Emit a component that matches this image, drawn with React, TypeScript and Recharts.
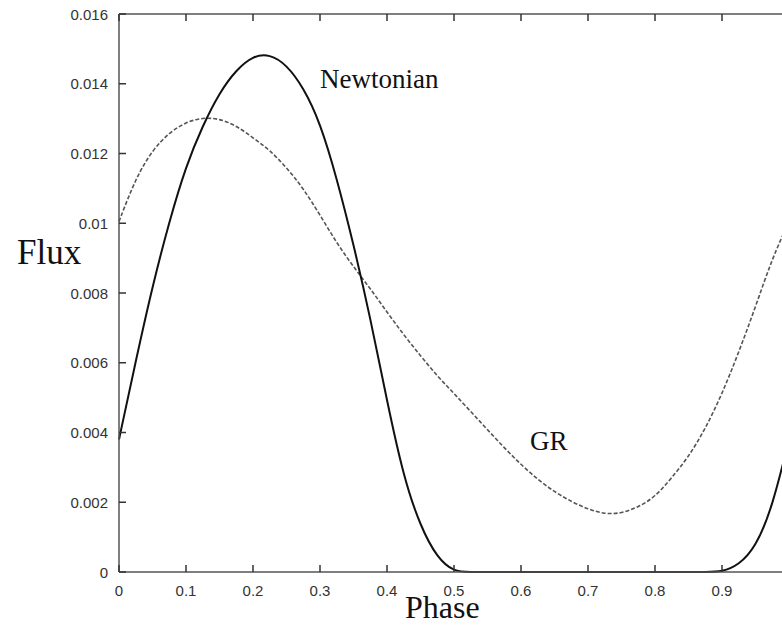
import { LineChart, Line, XAxis, YAxis } from "recharts"

// phase grid and flux readings
const phase = [
  0, 0.025, 0.05, 0.075, 0.1, 0.125, 0.15, 0.175, 0.2, 0.225,
  0.25, 0.275, 0.3, 0.325, 0.35, 0.375, 0.4, 0.425, 0.45, 0.475,
  0.5, 0.525, 0.55, 0.575, 0.6, 0.625, 0.65, 0.675, 0.7, 0.725,
  0.75, 0.775, 0.8, 0.825, 0.85, 0.875, 0.9, 0.925, 0.95, 0.975, 1,
]

const newtonian = [
  0.0038, 0.00605, 0.0082, 0.01005, 0.01165, 0.0128, 0.01375, 0.0144, 0.0148, 0.01485,
  0.01455, 0.0139, 0.0129, 0.0113, 0.0094, 0.0073, 0.0049, 0.0027, 0.0013, 0.0004,
  0, 0, 0, 0, 0, 0, 0, 0, 0, 0,
  0, 0, 0, 0, 0, 0, 0, 0.0002, 0.0007, 0.00185, 0.0038,
]

const gr = [
  0.01005, 0.0113, 0.0121, 0.0126, 0.0129, 0.01303, 0.013, 0.0128, 0.01245, 0.0121,
  0.0116, 0.011, 0.01024, 0.00943, 0.00875, 0.00813, 0.00745, 0.0068, 0.0062, 0.00562,
  0.00512, 0.0046, 0.00408, 0.00356, 0.00308, 0.00265, 0.0023, 0.00202, 0.0018, 0.00166,
  0.00168, 0.00186, 0.00215, 0.0027, 0.0033, 0.0041, 0.0051, 0.0063, 0.0076, 0.009, 0.01005,
]

const phaseTicks = [0, 0.1, 0.2, 0.3, 0.4, 0.5, 0.6, 0.7, 0.8, 0.9, 1]
const fluxTicks = [0, 0.002, 0.004, 0.006, 0.008, 0.01, 0.012, 0.014, 0.016]

const data = phase.map((p, i) => ({ phase: p, newtonian: newtonian[i], gr: gr[i] }))

const axisColor = "#555"
const tickColor = "#333"
const sans = "Liberation Sans, Arial, sans-serif"
const serif = "Liberation Serif, Times New Roman, serif"
const TICK = 7

// gnuplot style: tick marks point into the plot, labels sit outside
const BottomTick = (props: any) => {
  const { x, y, payload } = props
  const v = payload.value
  return (
    <g>
      <line x1={x} y1={y} x2={x} y2={y - TICK} stroke={tickColor} strokeWidth={1.5} />
      {v < 1 && (
        <text x={x} y={y + 18} textAnchor="middle" dominantBaseline="central" fontFamily={sans} fontSize={15} fill="#333">
          {String(parseFloat(v.toFixed(1)))}
        </text>
      )}
    </g>
  )
}

const TopTick = (props: any) => {
  const { x, y } = props
  return <line x1={x} y1={y} x2={x} y2={y + TICK} stroke={tickColor} strokeWidth={1.5} />
}

const LeftTick = (props: any) => {
  const { x, y, payload } = props
  return (
    <g>
      <line x1={x} y1={y} x2={x + TICK} y2={y} stroke={tickColor} strokeWidth={1.5} />
      <text x={x - 11} y={y} textAnchor="end" dominantBaseline="central" fontFamily={sans} fontSize={15} fill="#333">
        {String(parseFloat(payload.value.toFixed(3)))}
      </text>
    </g>
  )
}

const RightTick = (props: any) => {
  const { x, y } = props
  return <line x1={x} y1={y} x2={x - TICK} y2={y} stroke={tickColor} strokeWidth={1.5} />
}

export default function App() {
  return (
    <div style={{ position: "absolute", left: 0, top: 0, width: 782, height: 625, overflow: "hidden", background: "#fff" }}>
      <LineChart width={820} height={625} data={data} margin={{ top: 0, right: 0, bottom: 0, left: 0 }}>
        <XAxis
          dataKey="phase"
          type="number"
          domain={[0, 1]}
          ticks={phaseTicks}
          interval={0}
          height={53}
          tickSize={0}
          tickMargin={0}
          tickLine={false}
          tick={BottomTick}
          stroke={axisColor}
          strokeWidth={1.5}
        />
        <XAxis
          xAxisId="top"
          orientation="top"
          dataKey="phase"
          type="number"
          domain={[0, 1]}
          ticks={phaseTicks}
          interval={0}
          height={14}
          tickSize={0}
          tickMargin={0}
          tickLine={false}
          tick={TopTick}
          stroke={axisColor}
          strokeWidth={1.5}
        />
        <YAxis
          type="number"
          domain={[0, 0.016]}
          ticks={fluxTicks}
          interval={0}
          width={119}
          tickSize={0}
          tickMargin={0}
          tickLine={false}
          tick={LeftTick}
          stroke={axisColor}
          strokeWidth={1.5}
        />
        <YAxis
          yAxisId="right"
          orientation="right"
          type="number"
          domain={[0, 0.016]}
          ticks={fluxTicks}
          interval={0}
          width={31}
          tickSize={0}
          tickMargin={0}
          tickLine={false}
          tick={RightTick}
          stroke={axisColor}
          strokeWidth={1.5}
        />
        <Line
          dataKey="gr"
          type="basis"
          stroke="#555"
          strokeWidth={1.6}
          strokeDasharray="4 2"
          dot={false}
          isAnimationActive={false}
        />
        <Line
          dataKey="newtonian"
          type="basis"
          stroke="#111"
          strokeWidth={2}
          dot={false}
          isAnimationActive={false}
        />
      </LineChart>
      <svg width={782} height={625} style={{ position: "absolute", left: 0, top: 0, pointerEvents: "none" }}>
        <text x={17} y={264} fontFamily={serif} fontSize={35} fill="#111">Flux</text>
        <text x={405} y={618} fontFamily={serif} fontSize={32} fill="#111">Phase</text>
        <text x={320} y={88} fontFamily={serif} fontSize={27} fill="#111">Newtonian</text>
        <text x={530} y={450} fontFamily={serif} fontSize={27} fill="#111">GR</text>
      </svg>
    </div>
  )
}
